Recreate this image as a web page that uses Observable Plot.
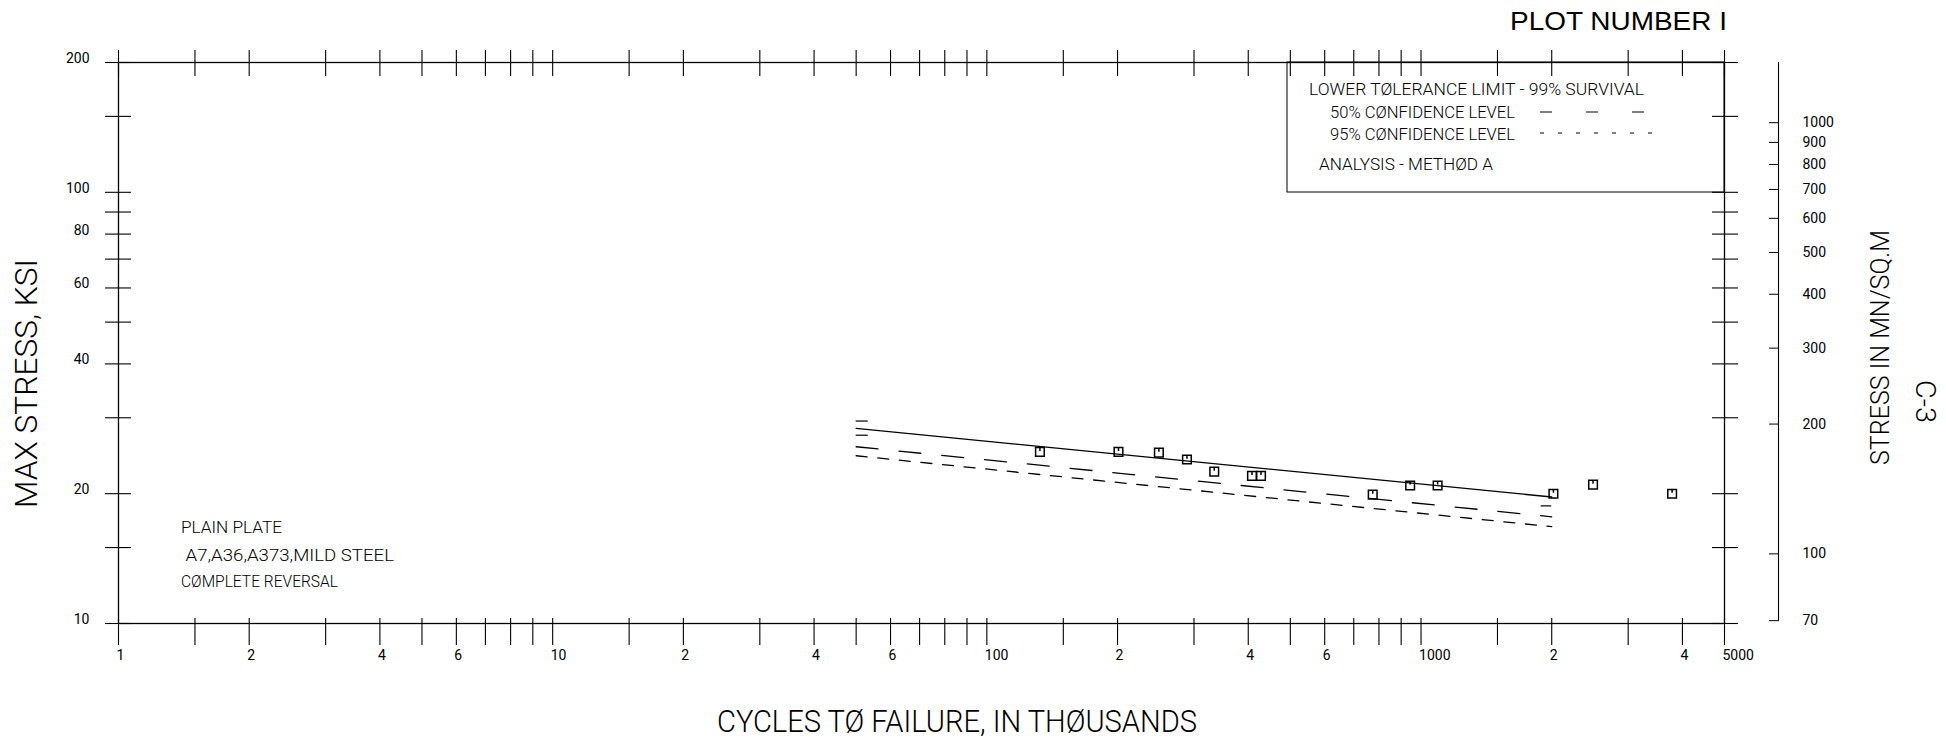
<!DOCTYPE html>
<html><head><meta charset="utf-8">
<script src="https://cdn.jsdelivr.net/npm/d3@7"></script>
<script src="https://cdn.jsdelivr.net/npm/@observablehq/plot@0.6"></script>
<style>html,body{margin:0;padding:0;background:#fff;} svg{display:block}</style>
</head><body><div id="chart"></div>
<script>
// ---- data ----
const lineCycles    = [50, 2000];           // thousands of cycles
const meanStress    = [28.35, 19.65];       // lower tolerance limit line (solid)
const conf50Stress  = [25.7, 17.68];        // 50% confidence level
const conf95Stress  = [24.49, 16.77];       // 95% confidence level
const testCycles = [132.5, 201, 249, 289, 334, 408, 428, 774, 944, 1092, 2018, 2490, 3787];
const testStress = [25.0, 25.0, 24.9, 24.0, 22.5, 22.0, 22.0, 19.9, 20.9, 20.9, 20.0, 21.0, 20.0];
const stubX1 = [50, 50, 1891];
const stubX2 = [53.3, 53.3, 2000];
const stubY  = [29.48, 27.33, 18.74];

const xTicks = [1,1.5,2,3,4,5,6,7,8,9,10,15,20,30,40,50,60,70,80,90,100,150,200,300,400,500,600,700,800,900,1000,1500,2000,3000,4000,5000];
const xLabelTicks = [1,2,4,6,8,10,20,40,60,80,100,200,400,600,800,1000,2000,4000,5000];
const xLabelText  = ["1","2","4","6","8","10","2","4","6","8","100","2","4","6","8","1000","2","4","5000"];
const yTicks = [200,150,100,90,80,70,60,50,40,30,20,15,10];
const yLabelTicks = [200,100,80,60,40,20,10];
const mpaTicks = [1000,900,800,700,600,500,400,300,200,100,70];
const mpaAxisExtent = [70, 1379];   // MN/sq.m span of the secondary axis line
const KSI_PER_MPA = 1 / 6.894757;

const xTitle = "CYCLES TØ FAILURE, IN THØUSANDS";
const yTitle = "MAX STRESS, KSI";
const y2Title = "STRESS IN MN/SQ.M";
const plotTitle = "PLOT NUMBER I";
const pageTag = "C-3";
const noteLines = ["PLAIN PLATE", " A7,A36,A373,MILD STEEL", "CØMPLETE REVERSAL"];
const legendHeader = "LOWER TØLERANCE LIMIT - 99% SURVIVAL";
const legendItems = ["50% CØNFIDENCE LEVEL", "95% CØNFIDENCE LEVEL"];
const legendFooter = "ANALYSIS - METHØD A";

// ---- build tables ----
const lines = [];
[["mean", meanStress], ["c50", conf50Stress], ["c95", conf95Stress]].forEach(([k, arr]) =>
  lineCycles.forEach((c, i) => lines.push({series: k, x: c, y: arr[i]})));
const pts = testCycles.map((c, i) => ({x: c, y: testStress[i]}));
const stubs = stubY.map((y, i) => ({x1: stubX1[i], x2: stubX2[i], y}));
const labelMap = new Map(xLabelTicks.map((t, i) => [t, xLabelText[i]]));
const mpaLine = [{x: 5000, y1: mpaAxisExtent[0] * KSI_PER_MPA, y2: mpaAxisExtent[1] * KSI_PER_MPA}];

const boxSymbol = {
  draw(ctx, size) {
    const h = Math.sqrt(size / Math.PI) * 0.9;
    ctx.moveTo(-h, -h); ctx.lineTo(h, -h); ctx.lineTo(h, h); ctx.lineTo(-h, h); ctx.closePath();
    ctx.moveTo(0, -h); ctx.lineTo(0, -h * 0.2);
  }
};

const numFont = "Roboto, 'DejaVu Sans', sans-serif";

const chart = Plot.plot({
  width: 1946, height: 743,
  marginLeft: 118, marginRight: 222, marginTop: 62, marginBottom: 120,
  style: {background: "#fff", color: "#000", fontFamily: numFont},
  x: {type: "log", domain: [1, 5000], label: null},
  y: {type: "log", domain: [10, 200], label: null, clamp: false},
  marks: [
    Plot.frame({stroke: "#000", strokeWidth: 1.3}),
    // crossing ticks on all four frame edges
    Plot.axisX(xTicks, {anchor: "bottom", tickSize: 27, dy: -5, fill: "none", label: null, strokeWidth: 1.1}),
    Plot.axisX(xTicks, {anchor: "top", tickSize: 26, dy: 13, fill: "none", label: null, strokeWidth: 1.1}),
    Plot.axisY(yTicks, {anchor: "left", tickSize: 26, dx: 13, fill: "none", label: null, strokeWidth: 1.1}),
    Plot.axisY(yTicks, {anchor: "right", tickSize: 26, dx: -13, fill: "none", label: null, strokeWidth: 1.1}),
    // tick labels
    Plot.axisX(xLabelTicks, {anchor: "bottom", tickSize: 0, tickPadding: 27, textAnchor: "start", dx: -2,
      tickFormat: d => labelMap.get(d), fontSize: 14, label: null}),
    Plot.axisY(yLabelTicks, {anchor: "left", tickSize: 0, tickPadding: 29, dy: -4,
      tickFormat: d => String(d), fontSize: 14, label: null}),
    // secondary stress axis in MN/sq.m
    Plot.ruleX(mpaLine, {x: "x", y1: "y1", y2: "y2", dx: 54, stroke: "#000", strokeWidth: 1.1, clip: false}),
    Plot.axisY(mpaTicks.map(m => m * KSI_PER_MPA), {anchor: "right", tickSize: 10, dx: 44, tickPadding: 24,
      tickFormat: d => String(Math.round(d / KSI_PER_MPA)), fontSize: 14, label: null}),
    // data
    Plot.line(lines.filter(d => d.series === "mean"), {x: "x", y: "y", stroke: "#000", strokeWidth: 1.3}),
    Plot.line(lines.filter(d => d.series === "c50"), {x: "x", y: "y", stroke: "#000", strokeWidth: 1.3, strokeDasharray: "22,21"}),
    Plot.line(lines.filter(d => d.series === "c95"), {x: "x", y: "y", stroke: "#000", strokeWidth: 1.3, strokeDasharray: "11,10.7"}),
    Plot.ruleY(stubs, {y: "y", x1: "x1", x2: "x2", stroke: "#000", strokeWidth: 1.2}),
    Plot.dot(pts, {x: "x", y: "y", symbol: boxSymbol, r: 4.8, stroke: "#000", strokeWidth: 1.5, fill: "none"})
  ]
});
document.getElementById("chart").appendChild(chart);

// ---- text annotations ----
const svg = d3.select(chart);
const plotterFont = "Roboto, 'DejaVu Sans', sans-serif";
function addText(str, o) {
  const t = svg.append("text")
    .attr("transform", `translate(${o.x},${o.y}) rotate(${o.rotate || 0})`)
    .attr("font-family", o.family || plotterFont)
    .attr("font-size", o.size)
    .attr("font-weight", o.weight || 300)
    .attr("text-anchor", o.anchor || "start")
    .attr("fill", "#000")
    .style("white-space", "pre")
    .text(str);
  if (o.length) t.attr("textLength", o.length).attr("lengthAdjust", "spacingAndGlyphs");
  return t;
}
addText(plotTitle, {x: 1727, y: 30, size: 26, anchor: "end", length: 217, family: "'Liberation Sans', Arial, sans-serif", weight: 400});
addText(xTitle, {x: 717, y: 732, size: 31, length: 480});
addText(yTitle, {x: 37, y: 383.5, size: 31, length: 249, rotate: -90, anchor: "middle"});
addText(y2Title, {x: 1889, y: 347.5, size: 25, length: 235, rotate: -90, anchor: "middle"});
addText(pageTag, {x: 1916, y: 401.5, size: 28, length: 43, rotate: 90, anchor: "middle"});
addText(noteLines[0], {x: 181, y: 533, size: 16.5, length: 101});
addText(noteLines[1], {x: 181, y: 561, size: 16.5, length: 213});
addText(noteLines[2], {x: 181, y: 587, size: 16.5, length: 157});

// ---- legend box ----
svg.append("rect").attr("x", 1287).attr("y", 62).attr("width", 1724 - 1287).attr("height", 192 - 62)
  .attr("fill", "none").attr("stroke", "#000").attr("stroke-width", 1);
addText(legendHeader, {x: 1309, y: 95, size: 17, length: 335});
addText(legendItems[0], {x: 1330, y: 118, size: 17, length: 185});
addText(legendItems[1], {x: 1330, y: 140, size: 17, length: 185});
addText(legendFooter, {x: 1319, y: 170, size: 17, length: 174});
svg.append("line").attr("x1", 1540).attr("x2", 1645).attr("y1", 112).attr("y2", 112)
  .attr("stroke", "#000").attr("stroke-width", 1.2).attr("stroke-dasharray", "12,34");
svg.append("line").attr("x1", 1540).attr("x2", 1660).attr("y1", 133).attr("y2", 133)
  .attr("stroke", "#000").attr("stroke-width", 1.2).attr("stroke-dasharray", "4,14");
</script>
</body></html>
